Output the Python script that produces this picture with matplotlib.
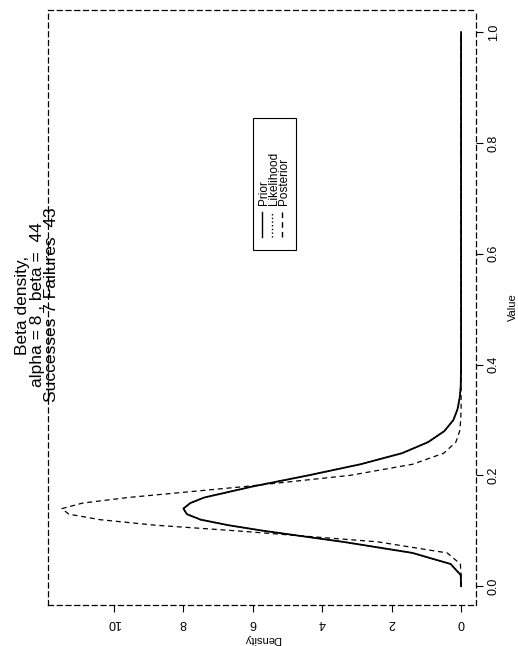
import matplotlib.pyplot as plt
from matplotlib.patches import Rectangle

plt.rcParams['font.family'] = ['Liberation Sans', 'DejaVu Sans']

# values (value axis, density)
value = [0.0, 0.02, 0.04, 0.06, 0.08, 0.10, 0.11, 0.12, 0.13, 0.14, 0.15, 0.16, 0.18,
         0.20, 0.22, 0.24, 0.26, 0.28, 0.30, 0.32, 0.34, 0.36, 0.40, 1.0]
prior = [0.0, 0.01, 0.3, 1.4, 3.4, 5.7, 6.7, 7.5, 7.9, 8.0, 7.8, 7.4, 6.0,
         4.4, 2.9, 1.7, 0.95, 0.48, 0.22, 0.1, 0.04, 0.01, 0.0, 0.0]
likelihood = prior
posterior = [0.0, 0.0, 0.02, 0.4, 2.4, 6.5, 8.8, 10.4, 11.3, 11.5, 10.9, 9.6, 6.2,
             3.2, 1.4, 0.5, 0.15, 0.04, 0.01, 0.0, 0.0, 0.0, 0.0, 0.0]
density_ticks = [0, 2, 4, 6, 8, 10]
value_ticks = [0.0, 0.2, 0.4, 0.6, 0.8, 1.0]

fig = plt.figure(figsize=(5.18, 6.46), dpi=100)
ax = fig.add_axes([48/518, 41/646, 428/518, 595/646])

# page is rotated: density runs right-to-left, value bottom-to-top
ax.plot(likelihood, value, color='black', lw=1, ls=':')
ax.plot(prior, value, color='black', lw=1.3)
ax.plot(posterior, value, color='black', lw=0.9, ls=(0, (4, 3)))
ax.set_xlim(11.9, -0.43)
ax.set_ylim(-0.034, 1.04)

for s in ax.spines.values():
    s.set_linestyle((0, (4, 3)))
    s.set_linewidth(0.9)

ax.set_xticks(density_ticks)
ax.set_xticklabels([str(t) for t in density_ticks], rotation=180, fontsize=9)
ax.yaxis.tick_right()
ax.set_yticks(value_ticks)
ax.set_yticklabels([f'{t:.1f}' for t in value_ticks], rotation=90, va='center', fontsize=9)
ax.tick_params(length=5, width=0.8)
ax.set_xlabel('Density', rotation=180, fontsize=8)
ax.yaxis.set_label_position('right')
ax.set_ylabel('Value', rotation=90, fontsize=8, labelpad=6)

# title (rotated with the page)
t = fig.transFigure
for xc, line in [(23, 'Beta density,'), (38, 'alpha = 8 , beta =  44'),
                 (52, 'Successes 7 Failures  43')]:
    fig.text(xc/518, 1-305/646, line, rotation=90, ha='center', va='center', fontsize=12.5)

# legend drawn by hand, rotated
fig.patches.append(Rectangle((253/518, 1-250/646), 43/518, 132/646, transform=t,
                             fill=False, ec='black', lw=0.8))
styles = ['-', ':', (0, (4, 3))]
names = ['Prior', 'Likelihood', 'Posterior']
for i, (st, nm) in enumerate(zip(styles, names)):
    x = (262 + 10*i)/518
    fig.add_artist(plt.Line2D([x, x], [1-237/646, 1-212/646], transform=t,
                              color='black', lw=1, ls=st))
    fig.text(x + 2/518, 1-205/646, nm, rotation=90, ha='center', va='bottom', fontsize=8.5)

fig.savefig('out.png', dpi=100)
